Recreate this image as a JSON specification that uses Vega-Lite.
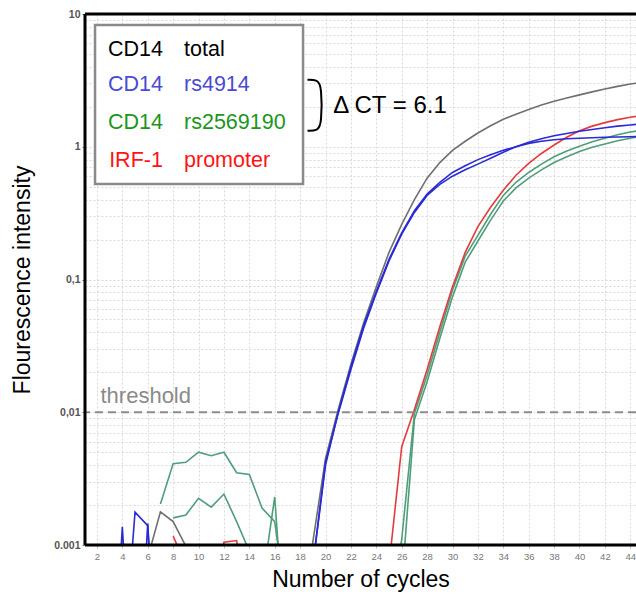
{
  "$schema": "https://vega.github.io/schema/vega-lite/v6.json",
  "width": 551,
  "height": 531,
  "autosize": {"type": "none"},
  "padding": {"left": 85, "top": 14, "right": 0, "bottom": 53},
  "background": "white",
  "config": {
    "view": {"stroke": null},
    "font": "Liberation Sans",
    "axis": {"labelOverlap": false}
  },
  "datasets": {
    "curves": [
      {"cycle": 6, "value": 0.0008, "series": "total", "group": "total"},
      {"cycle": 7, "value": 0.00178, "series": "total", "group": "total"},
      {"cycle": 8, "value": 0.0015, "series": "total", "group": "total"},
      {"cycle": 9, "value": 0.00098, "series": "total", "group": "total"},
      {"cycle": 10, "value": 0.0002, "series": "total", "group": "total"},
      {"cycle": 18, "value": 0.0002, "series": "total", "group": "total"},
      {"cycle": 19, "value": 0.00105, "series": "total", "group": "total"},
      {"cycle": 20, "value": 0.0045, "series": "total", "group": "total"},
      {"cycle": 21, "value": 0.0105, "series": "total", "group": "total"},
      {"cycle": 22, "value": 0.023, "series": "total", "group": "total"},
      {"cycle": 23, "value": 0.047, "series": "total", "group": "total"},
      {"cycle": 24, "value": 0.088, "series": "total", "group": "total"},
      {"cycle": 25, "value": 0.16, "series": "total", "group": "total"},
      {"cycle": 26, "value": 0.26, "series": "total", "group": "total"},
      {"cycle": 27, "value": 0.40, "series": "total", "group": "total"},
      {"cycle": 28, "value": 0.58, "series": "total", "group": "total"},
      {"cycle": 29, "value": 0.76, "series": "total", "group": "total"},
      {"cycle": 30, "value": 0.94, "series": "total", "group": "total"},
      {"cycle": 31, "value": 1.10, "series": "total", "group": "total"},
      {"cycle": 32, "value": 1.27, "series": "total", "group": "total"},
      {"cycle": 33, "value": 1.44, "series": "total", "group": "total"},
      {"cycle": 34, "value": 1.61, "series": "total", "group": "total"},
      {"cycle": 35, "value": 1.76, "series": "total", "group": "total"},
      {"cycle": 36, "value": 1.91, "series": "total", "group": "total"},
      {"cycle": 37, "value": 2.06, "series": "total", "group": "total"},
      {"cycle": 38, "value": 2.2, "series": "total", "group": "total"},
      {"cycle": 39, "value": 2.33, "series": "total", "group": "total"},
      {"cycle": 40, "value": 2.46, "series": "total", "group": "total"},
      {"cycle": 41, "value": 2.59, "series": "total", "group": "total"},
      {"cycle": 42, "value": 2.72, "series": "total", "group": "total"},
      {"cycle": 43, "value": 2.85, "series": "total", "group": "total"},
      {"cycle": 44, "value": 2.97, "series": "total", "group": "total"},
      {"cycle": 45, "value": 3.05, "series": "total", "group": "total"},

      {"cycle": 7, "value": 0.00204, "series": "rs2569190 a", "group": "rs2569190"},
      {"cycle": 8, "value": 0.0041, "series": "rs2569190 a", "group": "rs2569190"},
      {"cycle": 9, "value": 0.0042, "series": "rs2569190 a", "group": "rs2569190"},
      {"cycle": 10, "value": 0.005, "series": "rs2569190 a", "group": "rs2569190"},
      {"cycle": 11, "value": 0.0047, "series": "rs2569190 a", "group": "rs2569190"},
      {"cycle": 12, "value": 0.005, "series": "rs2569190 a", "group": "rs2569190"},
      {"cycle": 13, "value": 0.0035, "series": "rs2569190 a", "group": "rs2569190"},
      {"cycle": 14, "value": 0.0034, "series": "rs2569190 a", "group": "rs2569190"},
      {"cycle": 15, "value": 0.0019, "series": "rs2569190 a", "group": "rs2569190"},
      {"cycle": 16, "value": 0.0015, "series": "rs2569190 a", "group": "rs2569190"},
      {"cycle": 17, "value": 0.0003, "series": "rs2569190 a", "group": "rs2569190"},
      {"cycle": 18, "value": 0.0002, "series": "rs2569190 a", "group": "rs2569190"},
      {"cycle": 25, "value": 0.0003, "series": "rs2569190 a", "group": "rs2569190"},
      {"cycle": 26, "value": 0.0011, "series": "rs2569190 a", "group": "rs2569190"},
      {"cycle": 27, "value": 0.0098, "series": "rs2569190 a", "group": "rs2569190"},
      {"cycle": 28, "value": 0.019, "series": "rs2569190 a", "group": "rs2569190"},
      {"cycle": 29, "value": 0.04, "series": "rs2569190 a", "group": "rs2569190"},
      {"cycle": 30, "value": 0.083, "series": "rs2569190 a", "group": "rs2569190"},
      {"cycle": 31, "value": 0.15, "series": "rs2569190 a", "group": "rs2569190"},
      {"cycle": 32, "value": 0.215, "series": "rs2569190 a", "group": "rs2569190"},
      {"cycle": 33, "value": 0.31, "series": "rs2569190 a", "group": "rs2569190"},
      {"cycle": 34, "value": 0.43, "series": "rs2569190 a", "group": "rs2569190"},
      {"cycle": 35, "value": 0.54, "series": "rs2569190 a", "group": "rs2569190"},
      {"cycle": 36, "value": 0.64, "series": "rs2569190 a", "group": "rs2569190"},
      {"cycle": 37, "value": 0.74, "series": "rs2569190 a", "group": "rs2569190"},
      {"cycle": 38, "value": 0.84, "series": "rs2569190 a", "group": "rs2569190"},
      {"cycle": 39, "value": 0.93, "series": "rs2569190 a", "group": "rs2569190"},
      {"cycle": 40, "value": 1.01, "series": "rs2569190 a", "group": "rs2569190"},
      {"cycle": 41, "value": 1.09, "series": "rs2569190 a", "group": "rs2569190"},
      {"cycle": 42, "value": 1.16, "series": "rs2569190 a", "group": "rs2569190"},
      {"cycle": 43, "value": 1.23, "series": "rs2569190 a", "group": "rs2569190"},
      {"cycle": 44, "value": 1.29, "series": "rs2569190 a", "group": "rs2569190"},
      {"cycle": 45, "value": 1.34, "series": "rs2569190 a", "group": "rs2569190"},

      {"cycle": 8, "value": 0.0016, "series": "rs2569190 b", "group": "rs2569190"},
      {"cycle": 9, "value": 0.00168, "series": "rs2569190 b", "group": "rs2569190"},
      {"cycle": 10, "value": 0.00225, "series": "rs2569190 b", "group": "rs2569190"},
      {"cycle": 11, "value": 0.00193, "series": "rs2569190 b", "group": "rs2569190"},
      {"cycle": 12, "value": 0.00242, "series": "rs2569190 b", "group": "rs2569190"},
      {"cycle": 13, "value": 0.0015, "series": "rs2569190 b", "group": "rs2569190"},
      {"cycle": 14, "value": 0.0009, "series": "rs2569190 b", "group": "rs2569190"},
      {"cycle": 15, "value": 0.0005, "series": "rs2569190 b", "group": "rs2569190"},
      {"cycle": 16, "value": 0.0023, "series": "rs2569190 b", "group": "rs2569190"},
      {"cycle": 17, "value": 0.0001, "series": "rs2569190 b", "group": "rs2569190"},
      {"cycle": 18, "value": 0.0002, "series": "rs2569190 b", "group": "rs2569190"},
      {"cycle": 25, "value": 0.0002, "series": "rs2569190 b", "group": "rs2569190"},
      {"cycle": 26, "value": 0.0005, "series": "rs2569190 b", "group": "rs2569190"},
      {"cycle": 27, "value": 0.0088, "series": "rs2569190 b", "group": "rs2569190"},
      {"cycle": 28, "value": 0.017, "series": "rs2569190 b", "group": "rs2569190"},
      {"cycle": 29, "value": 0.036, "series": "rs2569190 b", "group": "rs2569190"},
      {"cycle": 30, "value": 0.074, "series": "rs2569190 b", "group": "rs2569190"},
      {"cycle": 31, "value": 0.135, "series": "rs2569190 b", "group": "rs2569190"},
      {"cycle": 32, "value": 0.195, "series": "rs2569190 b", "group": "rs2569190"},
      {"cycle": 33, "value": 0.28, "series": "rs2569190 b", "group": "rs2569190"},
      {"cycle": 34, "value": 0.39, "series": "rs2569190 b", "group": "rs2569190"},
      {"cycle": 35, "value": 0.49, "series": "rs2569190 b", "group": "rs2569190"},
      {"cycle": 36, "value": 0.58, "series": "rs2569190 b", "group": "rs2569190"},
      {"cycle": 37, "value": 0.67, "series": "rs2569190 b", "group": "rs2569190"},
      {"cycle": 38, "value": 0.76, "series": "rs2569190 b", "group": "rs2569190"},
      {"cycle": 39, "value": 0.84, "series": "rs2569190 b", "group": "rs2569190"},
      {"cycle": 40, "value": 0.92, "series": "rs2569190 b", "group": "rs2569190"},
      {"cycle": 41, "value": 0.99, "series": "rs2569190 b", "group": "rs2569190"},
      {"cycle": 42, "value": 1.05, "series": "rs2569190 b", "group": "rs2569190"},
      {"cycle": 43, "value": 1.11, "series": "rs2569190 b", "group": "rs2569190"},
      {"cycle": 44, "value": 1.16, "series": "rs2569190 b", "group": "rs2569190"},
      {"cycle": 45, "value": 1.2, "series": "rs2569190 b", "group": "rs2569190"},

      {"cycle": 8, "value": 0.00117, "series": "promoter", "group": "promoter"},
      {"cycle": 9, "value": 0.0007, "series": "promoter", "group": "promoter"},
      {"cycle": 10, "value": 0.0002, "series": "promoter", "group": "promoter"},
      {"cycle": 11, "value": 0.0002, "series": "promoter", "group": "promoter"},
      {"cycle": 12, "value": 0.00105, "series": "promoter", "group": "promoter"},
      {"cycle": 13, "value": 0.00108, "series": "promoter", "group": "promoter"},
      {"cycle": 14, "value": 0.0003, "series": "promoter", "group": "promoter"},
      {"cycle": 15, "value": 0.0002, "series": "promoter", "group": "promoter"},
      {"cycle": 24, "value": 0.0002, "series": "promoter", "group": "promoter"},
      {"cycle": 25, "value": 0.0007, "series": "promoter", "group": "promoter"},
      {"cycle": 26, "value": 0.0055, "series": "promoter", "group": "promoter"},
      {"cycle": 27, "value": 0.0105, "series": "promoter", "group": "promoter"},
      {"cycle": 28, "value": 0.021, "series": "promoter", "group": "promoter"},
      {"cycle": 29, "value": 0.044, "series": "promoter", "group": "promoter"},
      {"cycle": 30, "value": 0.088, "series": "promoter", "group": "promoter"},
      {"cycle": 31, "value": 0.16, "series": "promoter", "group": "promoter"},
      {"cycle": 32, "value": 0.25, "series": "promoter", "group": "promoter"},
      {"cycle": 33, "value": 0.35, "series": "promoter", "group": "promoter"},
      {"cycle": 34, "value": 0.47, "series": "promoter", "group": "promoter"},
      {"cycle": 35, "value": 0.61, "series": "promoter", "group": "promoter"},
      {"cycle": 36, "value": 0.75, "series": "promoter", "group": "promoter"},
      {"cycle": 37, "value": 0.89, "series": "promoter", "group": "promoter"},
      {"cycle": 38, "value": 1.03, "series": "promoter", "group": "promoter"},
      {"cycle": 39, "value": 1.18, "series": "promoter", "group": "promoter"},
      {"cycle": 40, "value": 1.32, "series": "promoter", "group": "promoter"},
      {"cycle": 41, "value": 1.43, "series": "promoter", "group": "promoter"},
      {"cycle": 42, "value": 1.52, "series": "promoter", "group": "promoter"},
      {"cycle": 43, "value": 1.6, "series": "promoter", "group": "promoter"},
      {"cycle": 44, "value": 1.67, "series": "promoter", "group": "promoter"},
      {"cycle": 45, "value": 1.72, "series": "promoter", "group": "promoter"},

      {"cycle": 3, "value": 0.00003, "series": "rs4914 a", "group": "rs4914"},
      {"cycle": 4, "value": 0.00137, "series": "rs4914 a", "group": "rs4914"},
      {"cycle": 5, "value": 0.00003, "series": "rs4914 a", "group": "rs4914"},
      {"cycle": 6, "value": 0.00145, "series": "rs4914 a", "group": "rs4914"},
      {"cycle": 7, "value": 0.00003, "series": "rs4914 a", "group": "rs4914"},
      {"cycle": 8, "value": 0.0002, "series": "rs4914 a", "group": "rs4914"},
      {"cycle": 18, "value": 0.0002, "series": "rs4914 a", "group": "rs4914"},
      {"cycle": 19, "value": 0.0007, "series": "rs4914 a", "group": "rs4914"},
      {"cycle": 20, "value": 0.0042, "series": "rs4914 a", "group": "rs4914"},
      {"cycle": 21, "value": 0.0098, "series": "rs4914 a", "group": "rs4914"},
      {"cycle": 22, "value": 0.021, "series": "rs4914 a", "group": "rs4914"},
      {"cycle": 23, "value": 0.043, "series": "rs4914 a", "group": "rs4914"},
      {"cycle": 24, "value": 0.079, "series": "rs4914 a", "group": "rs4914"},
      {"cycle": 25, "value": 0.138, "series": "rs4914 a", "group": "rs4914"},
      {"cycle": 26, "value": 0.22, "series": "rs4914 a", "group": "rs4914"},
      {"cycle": 27, "value": 0.32, "series": "rs4914 a", "group": "rs4914"},
      {"cycle": 28, "value": 0.43, "series": "rs4914 a", "group": "rs4914"},
      {"cycle": 29, "value": 0.52, "series": "rs4914 a", "group": "rs4914"},
      {"cycle": 30, "value": 0.60, "series": "rs4914 a", "group": "rs4914"},
      {"cycle": 31, "value": 0.67, "series": "rs4914 a", "group": "rs4914"},
      {"cycle": 32, "value": 0.74, "series": "rs4914 a", "group": "rs4914"},
      {"cycle": 33, "value": 0.82, "series": "rs4914 a", "group": "rs4914"},
      {"cycle": 34, "value": 0.91, "series": "rs4914 a", "group": "rs4914"},
      {"cycle": 35, "value": 1.0, "series": "rs4914 a", "group": "rs4914"},
      {"cycle": 36, "value": 1.08, "series": "rs4914 a", "group": "rs4914"},
      {"cycle": 37, "value": 1.15, "series": "rs4914 a", "group": "rs4914"},
      {"cycle": 38, "value": 1.21, "series": "rs4914 a", "group": "rs4914"},
      {"cycle": 39, "value": 1.26, "series": "rs4914 a", "group": "rs4914"},
      {"cycle": 40, "value": 1.31, "series": "rs4914 a", "group": "rs4914"},
      {"cycle": 41, "value": 1.35, "series": "rs4914 a", "group": "rs4914"},
      {"cycle": 42, "value": 1.39, "series": "rs4914 a", "group": "rs4914"},
      {"cycle": 43, "value": 1.43, "series": "rs4914 a", "group": "rs4914"},
      {"cycle": 44, "value": 1.46, "series": "rs4914 a", "group": "rs4914"},
      {"cycle": 45, "value": 1.49, "series": "rs4914 a", "group": "rs4914"},

      {"cycle": 4, "value": 0.0001, "series": "rs4914 b", "group": "rs4914"},
      {"cycle": 5, "value": 0.00177, "series": "rs4914 b", "group": "rs4914"},
      {"cycle": 6, "value": 0.0014, "series": "rs4914 b", "group": "rs4914"},
      {"cycle": 7, "value": 0.00003, "series": "rs4914 b", "group": "rs4914"},
      {"cycle": 8, "value": 0.0002, "series": "rs4914 b", "group": "rs4914"},
      {"cycle": 18, "value": 0.0002, "series": "rs4914 b", "group": "rs4914"},
      {"cycle": 19, "value": 0.0007, "series": "rs4914 b", "group": "rs4914"},
      {"cycle": 20, "value": 0.004, "series": "rs4914 b", "group": "rs4914"},
      {"cycle": 21, "value": 0.01, "series": "rs4914 b", "group": "rs4914"},
      {"cycle": 22, "value": 0.022, "series": "rs4914 b", "group": "rs4914"},
      {"cycle": 23, "value": 0.045, "series": "rs4914 b", "group": "rs4914"},
      {"cycle": 24, "value": 0.081, "series": "rs4914 b", "group": "rs4914"},
      {"cycle": 25, "value": 0.142, "series": "rs4914 b", "group": "rs4914"},
      {"cycle": 26, "value": 0.225, "series": "rs4914 b", "group": "rs4914"},
      {"cycle": 27, "value": 0.33, "series": "rs4914 b", "group": "rs4914"},
      {"cycle": 28, "value": 0.44, "series": "rs4914 b", "group": "rs4914"},
      {"cycle": 29, "value": 0.54, "series": "rs4914 b", "group": "rs4914"},
      {"cycle": 30, "value": 0.64, "series": "rs4914 b", "group": "rs4914"},
      {"cycle": 31, "value": 0.72, "series": "rs4914 b", "group": "rs4914"},
      {"cycle": 32, "value": 0.80, "series": "rs4914 b", "group": "rs4914"},
      {"cycle": 33, "value": 0.87, "series": "rs4914 b", "group": "rs4914"},
      {"cycle": 34, "value": 0.94, "series": "rs4914 b", "group": "rs4914"},
      {"cycle": 35, "value": 1.0, "series": "rs4914 b", "group": "rs4914"},
      {"cycle": 36, "value": 1.06, "series": "rs4914 b", "group": "rs4914"},
      {"cycle": 37, "value": 1.1, "series": "rs4914 b", "group": "rs4914"},
      {"cycle": 38, "value": 1.13, "series": "rs4914 b", "group": "rs4914"},
      {"cycle": 39, "value": 1.15, "series": "rs4914 b", "group": "rs4914"},
      {"cycle": 40, "value": 1.16, "series": "rs4914 b", "group": "rs4914"},
      {"cycle": 41, "value": 1.17, "series": "rs4914 b", "group": "rs4914"},
      {"cycle": 42, "value": 1.18, "series": "rs4914 b", "group": "rs4914"},
      {"cycle": 43, "value": 1.185, "series": "rs4914 b", "group": "rs4914"},
      {"cycle": 44, "value": 1.19, "series": "rs4914 b", "group": "rs4914"},
      {"cycle": 45, "value": 1.195, "series": "rs4914 b", "group": "rs4914"}
    ],
    "legend": [
      {"label": "CD14", "group": "total", "lx": 2.87, "ly": 4.83},
      {"label": "total", "group": "total", "lx": 8.86, "ly": 4.83},
      {"label": "CD14", "group": "rs4914", "lx": 2.87, "ly": 2.63},
      {"label": "rs4914", "group": "rs4914", "lx": 8.86, "ly": 2.63},
      {"label": "CD14", "group": "rs2569190", "lx": 2.87, "ly": 1.36},
      {"label": "rs2569190", "group": "rs2569190", "lx": 8.86, "ly": 1.36},
      {"label": "IRF-1", "group": "promoter", "lx": 2.96, "ly": 0.704},
      {"label": "promoter", "group": "promoter", "lx": 8.86, "ly": 0.704}
    ],
    "box": [{"x1": 1.85, "x2": 18.23, "y1": 8.26, "y2": 0.524}],
    "threshold": [{"level": 0.01, "label": "threshold", "lx": 2.28, "ly": 0.0118}],
    "delta": [{"label": "Δ CT = 6.1", "lx": 20.6, "ly": 1.795}],
    "brace": [
      {"bx": 18.58, "by": 3.19, "o": 1},
      {"bx": 19.38, "by": 3.19, "o": 2},
      {"bx": 19.7, "by": 2.85, "o": 3},
      {"bx": 19.7, "by": 1.48, "o": 4},
      {"bx": 19.38, "by": 1.32, "o": 5},
      {"bx": 18.58, "by": 1.32, "o": 6}
    ],
    "frame": [{"fx": 1.06, "top": 10, "bottom": 0.001}]
  },
  "layer": [
    {
      "data": {"name": "curves"},
      "mark": {"type": "line", "clip": true, "strokeWidth": 1.6, "interpolate": "linear"},
      "encoding": {
        "x": {
          "field": "cycle", "type": "quantitative",
          "scale": {"domain": [1.06, 44.45], "nice": false, "zero": false},
          "axis": {
            "values": [2, 4, 6, 8, 10, 12, 14, 16, 18, 20, 22, 24, 26, 28, 30, 32, 34, 36, 38, 40, 42, 44],
            "tickCount": 100, "format": "d",
            "title": "Number of cycles", "titleFontSize": 23, "titleFontWeight": "normal", "titleColor": "#000000",
            "titleFont": "Liberation Sans", "titlePadding": 8,
            "labelFontSize": 9.5, "labelColor": "#777777", "labelPadding": 3, "labelFlush": false,
            "labelOverlap": false, "labelFont": "Liberation Sans",
            "tickSize": 3, "tickColor": "#bbbbbb", "domain": false,
            "grid": true, "gridColor": "#d9d9d9", "gridDash": [2, 2], "gridWidth": 1
          }
        },
        "y": {
          "field": "value", "type": "quantitative",
          "scale": {"type": "log", "domain": [0.001, 10], "nice": false},
          "axis": {
            "values": [0.001, 0.002, 0.003, 0.004, 0.005, 0.006, 0.007, 0.008, 0.009,
                       0.01, 0.02, 0.03, 0.04, 0.05, 0.06, 0.07, 0.08, 0.09,
                       0.1, 0.2, 0.3, 0.4, 0.5, 0.6, 0.7, 0.8, 0.9,
                       1, 2, 3, 4, 5, 6, 7, 8, 9, 10],
            "tickCount": 100,
            "labelExpr": "datum.value == 10 ? '10' : datum.value == 1 ? '1' : datum.value == 0.1 ? '0,1' : datum.value == 0.01 ? '0,01' : datum.value == 0.001 ? '0.001' : ''",
            "labelOverlap": false, "labelFlush": false,
            "title": "Flourescence intensity", "titleFontSize": 23, "titleFontWeight": "normal", "titleColor": "#000000",
            "titleFont": "Liberation Sans", "titlePadding": 19,
            "labelFontSize": 10.5, "labelFontWeight": "bold", "labelColor": "#555555", "labelPadding": 2,
            "labelFont": "Liberation Sans",
            "tickSize": 3,
            "tickColor": {"condition": {"test": "datum.value == 10 || datum.value == 1 || datum.value == 0.1 || datum.value == 0.01 || datum.value == 0.001", "value": "#777777"}, "value": "transparent"},
            "domain": false,
            "grid": true, "gridColor": "#d9d9d9", "gridDash": [2, 2], "gridWidth": 1
          }
        },
        "color": {
          "field": "group", "type": "nominal",
          "scale": {"domain": ["total", "rs4914", "rs2569190", "promoter"], "range": ["#6f6f6f", "#2a2ad6", "#4f9e7b", "#e53b3b"]},
          "legend": null
        },
        "detail": {"field": "series", "type": "nominal"}
      }
    },
    {
      "data": {"name": "threshold"},
      "mark": {"type": "rule", "color": "#8c8c8c", "strokeWidth": 2, "strokeDash": [8, 5]},
      "encoding": {
        "y": {"field": "level", "type": "quantitative", "scale": {"type": "log", "domain": [0.001, 10], "nice": false}}
      }
    },
    {
      "data": {"name": "threshold"},
      "mark": {"type": "text", "align": "left", "baseline": "alphabetic", "fontSize": 22, "font": "Liberation Sans", "color": "#8a8a8a"},
      "encoding": {
        "x": {"field": "lx", "type": "quantitative", "scale": {"domain": [1.06, 44.45], "nice": false, "zero": false}},
        "y": {"field": "ly", "type": "quantitative", "scale": {"type": "log", "domain": [0.001, 10], "nice": false}},
        "text": {"field": "label"}
      }
    },
    {
      "data": {"name": "box"},
      "mark": {"type": "rect", "fill": "white", "stroke": "#8a8a8a", "strokeWidth": 2.5},
      "encoding": {
        "x": {"field": "x1", "type": "quantitative", "scale": {"domain": [1.06, 44.45], "nice": false, "zero": false}},
        "x2": {"field": "x2"},
        "y": {"field": "y1", "type": "quantitative", "scale": {"type": "log", "domain": [0.001, 10], "nice": false}},
        "y2": {"field": "y2"}
      }
    },
    {
      "data": {"name": "legend"},
      "mark": {"type": "text", "align": "left", "baseline": "alphabetic", "fontSize": 21.5, "font": "Liberation Sans"},
      "encoding": {
        "x": {"field": "lx", "type": "quantitative", "scale": {"domain": [1.06, 44.45], "nice": false, "zero": false}},
        "y": {"field": "ly", "type": "quantitative", "scale": {"type": "log", "domain": [0.001, 10], "nice": false}},
        "text": {"field": "label"},
        "fill": {
          "field": "group", "type": "nominal",
          "scale": {"domain": ["total", "rs4914", "rs2569190", "promoter"], "range": ["#000000", "#4a4ad2", "#1b961b", "#ff1414"]},
          "legend": null
        }
      }
    },
    {
      "data": {"name": "delta"},
      "mark": {"type": "text", "align": "left", "baseline": "alphabetic", "fontSize": 24, "font": "Liberation Sans", "color": "#000000"},
      "encoding": {
        "x": {"field": "lx", "type": "quantitative", "scale": {"domain": [1.06, 44.45], "nice": false, "zero": false}},
        "y": {"field": "ly", "type": "quantitative", "scale": {"type": "log", "domain": [0.001, 10], "nice": false}},
        "text": {"field": "label"}
      }
    },
    {
      "data": {"name": "brace"},
      "mark": {"type": "line", "color": "#000000", "strokeWidth": 2, "interpolate": "basis"},
      "encoding": {
        "x": {"field": "bx", "type": "quantitative", "scale": {"domain": [1.06, 44.45], "nice": false, "zero": false}},
        "y": {"field": "by", "type": "quantitative", "scale": {"type": "log", "domain": [0.001, 10], "nice": false}},
        "order": {"field": "o", "type": "quantitative"}
      }
    },
    {
      "data": {"name": "frame"},
      "mark": {"type": "rule", "color": "#000000", "strokeWidth": 3},
      "encoding": {
        "y": {"field": "top", "type": "quantitative", "scale": {"type": "log", "domain": [0.001, 10], "nice": false}}
      }
    },
    {
      "data": {"name": "frame"},
      "mark": {"type": "rule", "color": "#000000", "strokeWidth": 3},
      "encoding": {
        "y": {"field": "bottom", "type": "quantitative", "scale": {"type": "log", "domain": [0.001, 10], "nice": false}}
      }
    },
    {
      "data": {"name": "frame"},
      "mark": {"type": "rule", "color": "#000000", "strokeWidth": 3},
      "encoding": {
        "x": {"field": "fx", "type": "quantitative", "scale": {"domain": [1.06, 44.45], "nice": false, "zero": false}}
      }
    }
  ]
}
